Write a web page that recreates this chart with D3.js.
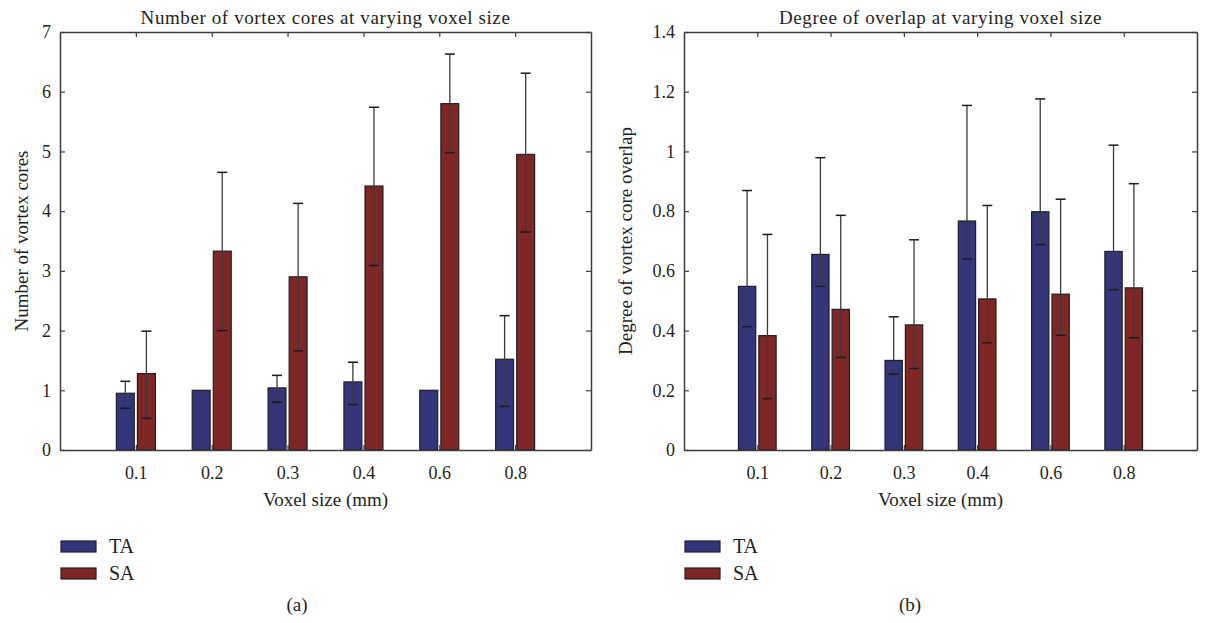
<!DOCTYPE html>
<html>
  <head>
    <meta charset="utf-8">
    <title>Vortex cores vs voxel size</title>
    <style>
      body { margin: 0; background: #fff; }
      svg text { font-family: "Liberation Serif", "DejaVu Serif", serif; fill: #231f20; }
    </style>
    <script src="https://d3js.org/d3.v7.min.js"></script>
  </head>
  <body>
    <svg id="fig"></svg>
    <script>
      // categories (voxel size, mm)
      let voxelSizes = ['0.1', '0.2', '0.3', '0.4', '0.6', '0.8'];
      let seriesNames = ['TA', 'SA'];

      // (a) number of vortex cores
      let coresTA = [0.95, 1.0, 1.04, 1.14, 1.0, 1.52];
      let coresTALow = [0.70, 1.0, 0.80, 0.76, 1.0, 0.73];
      let coresTAHigh = [1.15, 1.0, 1.25, 1.47, 1.0, 2.25];
      let coresSA = [1.28, 3.33, 2.90, 4.42, 5.80, 4.95];
      let coresSALow = [0.53, 2.0, 1.66, 3.09, 4.98, 3.65];
      let coresSAHigh = [1.99, 4.65, 4.13, 5.74, 6.63, 6.31];
      let coresTicks = [0, 1, 2, 3, 4, 5, 6, 7];

      // (b) degree of overlap
      let overlapTA = [0.548, 0.655, 0.300, 0.767, 0.798, 0.665];
      let overlapTALow = [0.413, 0.548, 0.254, 0.640, 0.688, 0.537];
      let overlapTAHigh = [0.869, 0.979, 0.446, 1.154, 1.176, 1.021];
      let overlapSA = [0.383, 0.471, 0.419, 0.506, 0.522, 0.543];
      let overlapSALow = [0.172, 0.310, 0.273, 0.359, 0.384, 0.376];
      let overlapSAHigh = [0.722, 0.786, 0.704, 0.819, 0.840, 0.892];
      let overlapTicks = [0, 0.2, 0.4, 0.6, 0.8, 1, 1.2, 1.4];

      let colors = { TA: '#35367a', SA: '#7f2727' };

      let svg = d3.select('#fig')
        .attr('width', 1221)
        .attr('height', 623);

      function makeSeries(name, vals, lo, hi) {
        return vals.map((v, i) => ({ name: name, i: i, value: v, low: lo[i], high: hi[i] }));
      }

      function drawPanel(opts) {
        let left = opts.left, right = opts.right, top = 32, bottom = 450;
        let g = svg.append('g');

        let x = d3.scaleLinear().domain([0, voxelSizes.length + 1]).range([left, right]);
        let y = d3.scaleLinear().domain([0, opts.yMax]).range([bottom, top]);

        // bars
        let barW = 0.236, offset = 0.139;
        let bars = opts.series.flat();
        let cx = d => x(d.i + 1 + (d.name === 'TA' ? -offset : offset));
        g.selectAll('rect.bar')
          .data(bars)
          .enter().append('rect')
          .attr('class', 'bar')
          .attr('x', d => cx(d) - (x(barW) - x(0)) / 2)
          .attr('width', x(barW) - x(0))
          .attr('y', d => y(d.value))
          .attr('height', d => y(0) - y(d.value))
          .attr('fill', d => colors[d.name])
          .attr('stroke', '#1e1e24')
          .attr('stroke-width', 1.2);

        // error bars (skip the ones with zero spread)
        let errs = bars.filter(d => d.high - d.low > 0.001);
        g.selectAll('line.err')
          .data(errs)
          .enter().append('line')
          .attr('x1', cx).attr('x2', cx)
          .attr('y1', d => y(d.low)).attr('y2', d => y(d.high))
          .attr('stroke', '#3a3a3a')
          .attr('stroke-width', 1.3);
        ['low', 'high'].forEach(k => {
          g.selectAll('line.cap-' + k)
            .data(errs)
            .enter().append('line')
            .attr('x1', d => cx(d) - 5).attr('x2', d => cx(d) + 5)
            .attr('y1', d => y(d[k])).attr('y2', d => y(d[k]))
            .attr('stroke', '#1a1a1a')
            .attr('stroke-width', 1.5);
        });

        // axes: ticks inside on all four sides, like a matlab box
        let catTicks = voxelSizes.map((v, i) => i + 1);
        let xAxis = d3.axisBottom(x).tickValues(catTicks)
          .tickFormat((d, i) => voxelSizes[i]).tickSizeInner(-5).tickSizeOuter(0).tickPadding(16);
        let xTop = d3.axisTop(x).tickValues(catTicks).tickFormat('').tickSizeInner(-5).tickSizeOuter(0);
        let yAxis = d3.axisLeft(y).tickValues(opts.ticks)
          .tickFormat(d3.format('~g')).tickSizeInner(-5).tickSizeOuter(0).tickPadding(9);
        let yRight = d3.axisRight(y).tickValues(opts.ticks).tickFormat('').tickSizeInner(-5).tickSizeOuter(0);

        let axes = [
          g.append('g').attr('transform', `translate(0,${bottom})`).call(xAxis),
          g.append('g').attr('transform', `translate(0,${top})`).call(xTop),
          g.append('g').attr('transform', `translate(${left},0)`).call(yAxis),
          g.append('g').attr('transform', `translate(${right},0)`).call(yRight)
        ];
        axes.forEach(a => {
          a.select('.domain').attr('stroke', '#3c3c3c').attr('stroke-width', 1.5);
          a.selectAll('.tick line').attr('stroke', '#3c3c3c').attr('stroke-width', 1.2);
          a.selectAll('.tick text').style('font-size', '18px').attr('fill', '#231f20');
        });

        // titles and labels
        g.append('text')
          .attr('x', (left + right) / 2).attr('y', 24)
          .attr('text-anchor', 'middle')
          .style('font-size', '19px')
          .style('letter-spacing', '0.6px')
          .text(opts.title);
        g.append('text')
          .attr('x', (left + right) / 2).attr('y', 506)
          .attr('text-anchor', 'middle')
          .style('font-size', '19px')
          .text('Voxel size (mm)');
        g.append('text')
          .attr('transform', `translate(${opts.yLabelX},${(top + bottom) / 2}) rotate(-90)`)
          .attr('text-anchor', 'middle')
          .style('font-size', '19px')
          .text(opts.yLabel);

        // legend
        let legend = g.append('g').attr('transform', `translate(${left + 1},541)`);
        seriesNames.forEach((s, i) => {
          legend.append('rect')
            .attr('x', 0).attr('y', i * 27)
            .attr('width', 35).attr('height', 11)
            .attr('fill', colors[s])
            .attr('stroke', '#1e1e24').attr('stroke-width', 1.2);
          legend.append('text')
            .attr('x', 48).attr('y', i * 27 + 12)
            .style('font-size', '20px')
            .text(s);
        });

        g.append('text')
          .attr('x', opts.captionX).attr('y', 611)
          .attr('text-anchor', 'middle')
          .style('font-size', '19px')
          .text(opts.caption);
      }

      drawPanel({
        left: 60, right: 591, yMax: 7, ticks: coresTicks,
        series: [makeSeries('TA', coresTA, coresTALow, coresTAHigh),
                 makeSeries('SA', coresSA, coresSALow, coresSAHigh)],
        title: 'Number of vortex cores at varying voxel size',
        yLabel: 'Number of vortex cores', yLabelX: 28,
        caption: '(a)', captionX: 297
      });

      drawPanel({
        left: 684, right: 1197, yMax: 1.4, ticks: overlapTicks,
        series: [makeSeries('TA', overlapTA, overlapTALow, overlapTAHigh),
                 makeSeries('SA', overlapSA, overlapSALow, overlapSAHigh)],
        title: 'Degree of overlap at varying voxel size',
        yLabel: 'Degree of vortex core overlap', yLabelX: 632,
        caption: '(b)', captionX: 910
      });
    </script>
  </body>
</html>
